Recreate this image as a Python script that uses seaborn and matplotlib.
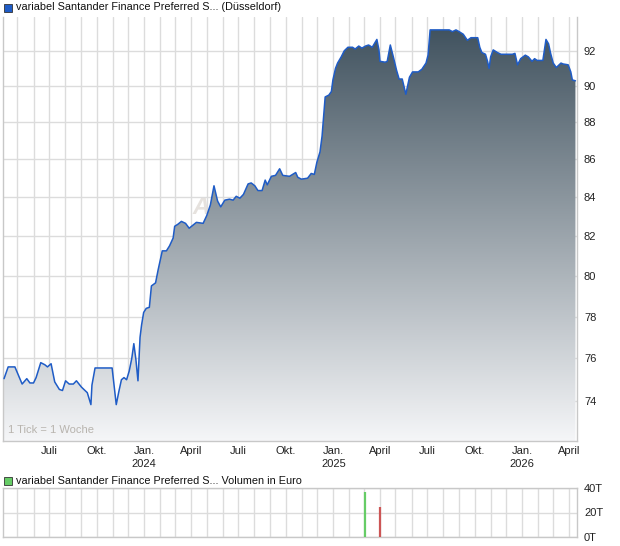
import numpy as np
import pandas as pd
import matplotlib
matplotlib.use("Agg")
import matplotlib.pyplot as plt
import matplotlib.dates as mdates
import matplotlib.ticker as mticker
from matplotlib.colors import LinearSegmentedColormap
from matplotlib.patches import Rectangle
import seaborn as sns

# weekly closing prices
dates = [
    "2023-04-05", "2023-04-13", "2023-04-26", "2023-05-03", "2023-05-10", "2023-05-19",
    "2023-05-25", "2023-06-01", "2023-06-06", "2023-06-15", "2023-06-23", "2023-06-28",
    "2023-07-05", "2023-07-12", "2023-07-21", "2023-07-27", "2023-08-02", "2023-08-09",
    "2023-08-17", "2023-08-23", "2023-09-02", "2023-09-13", "2023-09-20", "2023-09-22",
    "2023-09-28", "2023-10-31", "2023-11-03", "2023-11-08", "2023-11-13", "2023-11-18",
    "2023-11-23", "2023-11-28", "2023-12-03", "2023-12-08", "2023-12-12", "2023-12-16",
    "2023-12-20", "2023-12-24", "2023-12-27", "2023-12-31", "2024-01-05", "2024-01-11",
    "2024-01-15", "2024-01-23", "2024-01-28", "2024-02-05", "2024-02-13", "2024-02-19",
    "2024-02-26", "2024-02-29", "2024-03-06", "2024-03-13", "2024-03-21", "2024-03-28",
    "2024-04-11", "2024-04-24", "2024-05-01", "2024-05-08", "2024-05-15", "2024-05-22",
    "2024-05-28", "2024-06-05", "2024-06-14", "2024-06-21", "2024-06-27", "2024-07-04",
    "2024-07-11", "2024-07-20", "2024-07-26", "2024-08-02", "2024-08-08", "2024-08-16",
    "2024-08-22", "2024-08-26", "2024-09-03", "2024-09-11", "2024-09-19", "2024-09-25",
    "2024-10-08", "2024-10-20", "2024-10-24", "2024-10-31", "2024-11-12", "2024-11-19",
    "2024-11-25", "2024-11-30", "2024-12-06", "2024-12-10", "2024-12-13", "2024-12-16",
    "2024-12-23", "2024-12-28", "2024-12-31", "2025-01-05", "2025-01-09", "2025-01-16",
    "2025-01-22", "2025-01-29", "2025-02-07", "2025-02-12", "2025-02-19", "2025-02-25",
    "2025-03-04", "2025-03-10", "2025-03-17", "2025-03-26", "2025-03-30", "2025-04-01",
    "2025-04-11", "2025-04-15", "2025-04-21", "2025-04-26", "2025-05-03", "2025-05-08",
    "2025-05-14", "2025-05-21", "2025-05-28", "2025-06-03", "2025-06-14", "2025-06-21",
    "2025-06-29", "2025-07-03", "2025-07-07", "2025-08-13", "2025-08-19", "2025-08-26",
    "2025-09-01", "2025-09-09", "2025-09-17", "2025-09-24", "2025-10-07", "2025-10-11",
    "2025-10-15", "2025-10-22", "2025-10-26", "2025-10-29", "2025-11-01", "2025-11-06",
    "2025-11-14", "2025-11-21", "2025-12-13", "2025-12-18", "2025-12-23", "2025-12-29",
    "2026-01-07", "2026-01-13", "2026-01-20", "2026-01-25", "2026-01-30", "2026-02-10",
    "2026-02-16", "2026-02-21", "2026-02-25", "2026-03-02", "2026-03-08", "2026-03-17",
    "2026-03-21", "2026-03-31", "2026-04-05", "2026-04-08", "2026-04-14",
]
prices = [
    75.05, 75.6, 75.6, 75.2, 74.8, 75.05,
    74.85, 74.85, 75.1, 75.8, 75.7, 75.6,
    75.75, 74.9, 74.55, 74.5, 74.95, 74.8,
    74.8, 74.95, 74.65, 74.4, 73.85, 74.75,
    75.55, 75.55, 74.9, 73.85, 74.45, 75.0,
    75.1, 75.0, 75.4, 76.0, 76.7, 75.95,
    74.95, 77.0, 77.6, 78.2, 78.4, 78.45,
    79.5, 79.65, 80.3, 81.25, 81.25, 81.5,
    81.9, 82.5, 82.6, 82.75, 82.65, 82.4,
    82.7, 82.65, 83.05, 83.6, 84.6, 83.8,
    83.5, 83.85, 83.9, 83.85, 84.05, 83.95,
    84.15, 84.7, 84.75, 84.6, 84.35, 84.35,
    84.9, 84.65, 85.1, 85.15, 85.5, 85.15,
    85.1, 85.3, 85.05, 84.95, 85.0, 85.25,
    85.2, 85.85, 86.4, 87.25, 88.3, 89.4,
    89.5, 89.7, 90.35, 91.0, 91.3, 91.65,
    92.0, 92.2, 92.2, 92.1, 92.27, 92.15,
    92.27, 92.33, 92.2, 92.65, 92.05, 91.4,
    91.35, 91.4, 92.33, 91.75, 90.9, 90.4,
    90.4, 89.55, 90.5, 90.8, 90.8, 90.95,
    91.3, 91.75, 93.2, 93.2, 93.1, 93.2,
    93.1, 92.95, 92.6, 92.75, 92.75, 92.2,
    91.9, 91.8, 91.4, 91.0, 91.65, 92.05,
    91.9, 91.8, 91.8, 91.85, 91.2, 91.55,
    91.75, 91.65, 91.4, 91.55, 91.45, 91.45,
    92.65, 92.4, 91.85, 91.3, 91.05, 91.3,
    91.25, 91.2, 90.8, 90.35, 90.3,
]

# volume (thousand euro)
vol_dates = ["2025-03-04", "2025-04-02"]
vol_values = [36.5, 24.5]
vol_colors = ["#66cc66", "#cc5555"]

y_ticks = [74, 76, 78, 80, 82, 84, 86, 88, 90, 92]
vol_ticks = [0, 20, 40]
vol_labels = ["0T", "20T", "40T"]
month_names = {1: "Jan.", 4: "April", 7: "Juli", 10: "Okt."}

sns.set_style("white")
plt.rcParams['font.family'] = ['Liberation Sans', 'DejaVu Sans']

df = pd.DataFrame({"date": pd.to_datetime(dates), "price": prices})
vol = pd.DataFrame({"date": pd.to_datetime(vol_dates), "volume": vol_values})

W, H = 620, 546
fig = plt.figure(figsize=(W / 100, H / 100), dpi=100)
ax = fig.add_axes([3 / W, 1 - 441 / H, 574 / W, 424 / H])
av = fig.add_axes([3 / W, 1 - 537 / H, 574 / W, 49 / H])

grid_c = "#dcdcdc"
ymin, ymax = 72.2, 93.95
xmin, xmax = pd.Timestamp("2023-04-03"), pd.Timestamp("2026-04-17")

# gradient fill under the line
ax.set_yscale("log")
xn = mdates.date2num(df["date"])
poly = ax.fill_between(xn, df["price"], ymin, color="none", lw=0)
cmap = LinearSegmentedColormap.from_list("g", ["#f5f6f8", "#3c4e5b"])
grad = np.linspace(0, 1, 256).reshape(-1, 1)
img = ax.imshow(grad, extent=[0, 1, 0, 1], transform=ax.transAxes, origin="lower",
                aspect="auto", cmap=cmap, zorder=1)
img.set_clip_path(poly.get_paths()[0], transform=ax.transData)

sns.lineplot(data=df, x="date", y="price", ax=ax, color="#1f5cc6", lw=1.1, zorder=3)

ax.set_xlim(xmin, xmax)
ax.set_ylim(ymin, ymax)
ax.yaxis.set_major_locator(mticker.FixedLocator(y_ticks))
ax.yaxis.set_major_formatter(mticker.FixedFormatter([str(t) for t in y_ticks]))
ax.yaxis.set_minor_locator(mticker.NullLocator())
ax.yaxis.tick_right()


def fmt_month(x, pos):
    d = mdates.num2date(x)
    s = month_names.get(d.month, "")
    if d.month == 1:
        s += "\n" + str(d.year)
    return s


for a in (ax, av):
    a.xaxis.set_major_locator(mdates.MonthLocator(bymonth=[1, 4, 7, 10]))
    a.xaxis.set_minor_locator(mdates.MonthLocator())
    a.grid(True, which="both", axis="x", color=grid_c, lw=1, zorder=0)
    a.grid(True, which="major", axis="y", color=grid_c, lw=1, zorder=0)
    a.set_axisbelow(True)
    for s in a.spines.values():
        s.set_color("#c8c8c8")
        s.set_linewidth(1)
    a.set_xlabel("")
    a.set_ylabel("")
    a.tick_params(axis="y", length=0, pad=5, labelsize=8, labelcolor="#222222")
    a.tick_params(axis="x", which="both", length=3, color="#d0d0d0", labelsize=8,
                  labelcolor="#222222", pad=0.5)

ax.spines["top"].set_visible(False)
ax.xaxis.set_major_formatter(mticker.FuncFormatter(fmt_month))
for lab in ax.get_xticklabels():
    lab.set_linespacing(1.45)

# volume panel
av.set_xlim(xmin, xmax)
av.set_ylim(0, 40)
av.vlines(vol["date"], 0, vol["volume"], colors=vol_colors, lw=1.6, zorder=3)
av.yaxis.tick_right()
av.set_yticks(vol_ticks)
av.set_yticklabels(vol_labels)
av.xaxis.set_major_formatter(mticker.NullFormatter())
av.tick_params(axis="x", which="both", length=0)

# header texts with color squares
fig.patches.append(Rectangle((4 / W, 1 - 12 / H), 8 / W, 8 / H, transform=fig.transFigure,
                             facecolor="#1f5cc6", edgecolor="#333333", lw=0.6))
fig.text(16 / W, 1 - 7.5 / H, "variabel Santander Finance Preferred S... (Düsseldorf)",
         fontsize=7.8, va="center", ha="left", color="#111111")
fig.patches.append(Rectangle((4 / W, 1 - 485 / H), 8 / W, 8 / H, transform=fig.transFigure,
                             facecolor="#66cc66", edgecolor="#333333", lw=0.6))
fig.text(16 / W, 1 - 480.5 / H, "variabel Santander Finance Preferred S... Volumen in Euro",
         fontsize=7.8, va="center", ha="left", color="#111111")

ax.text(0.009, 0.015, "1 Tick = 1 Woche", transform=ax.transAxes, fontsize=8,
        color="#b8b4ae", ha="left", va="bottom", zorder=4)
ax.text(0.345, 0.55, "A", transform=ax.transAxes, fontsize=17, fontstyle="italic",
        fontweight="bold", color="#e6e2de", ha="center", va="center", zorder=0.5)

fig.savefig("out.png", dpi=100)
